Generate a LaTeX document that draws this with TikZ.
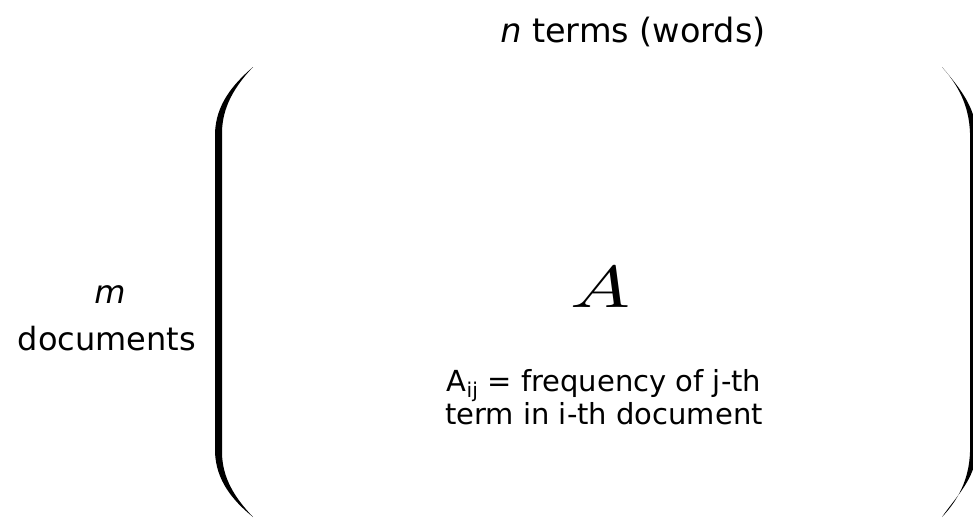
\documentclass[tikz,border=0pt]{standalone}
\usepackage{fontspec}
\setmainfont{DejaVu Sans}
\tikzset{
  txt/.style={anchor=base,inner sep=0pt},
  big/.style={txt,font=\fontsize{32}{38}\selectfont},
  small/.style={txt,font=\fontsize{29}{34}\selectfont},
  paren/.style={fill=black}
}
\begin{document}
\begin{tikzpicture}[x=1pt,y=-1pt]
  \useasboundingbox (0,0) rectangle (973,517);
  \node[big,font=\fontsize{33.5}{40}\selectfont] (terms) at (633,42) {\textit{n} terms (words)};
  \node[big] (m) at (110,303) {\textit{m}};
  \node[big] (docs) at (107,350) {documents};
  \node[txt] (A) at (600,307) {\scalebox{8}[5.9]{$A$}};
  \node[small] (def1) at (604,391) {A\textsubscript{ij} = frequency of j-th};
  \node[small] (def2) at (604,424) {term in i-th document};
  \fill[paren] (253,67) .. controls (232,85) and (216,105) .. (215,133) -- (215,452)
    .. controls (216,480) and (232,500) .. (253,517)
    .. controls (235,498) and (222,478) .. (222,452) -- (222,133)
    .. controls (222,107) and (235,86) .. cycle;
  \fill[paren] (942,67) .. controls (958,85) and (969,105) .. (970,133) -- (970,452)
    .. controls (969,480) and (958,500) .. (942,517)
    .. controls (955,498) and (976,478) .. (976,452) -- (976,133)
    .. controls (976,107) and (958,86) .. cycle;
\end{tikzpicture}
\end{document}
